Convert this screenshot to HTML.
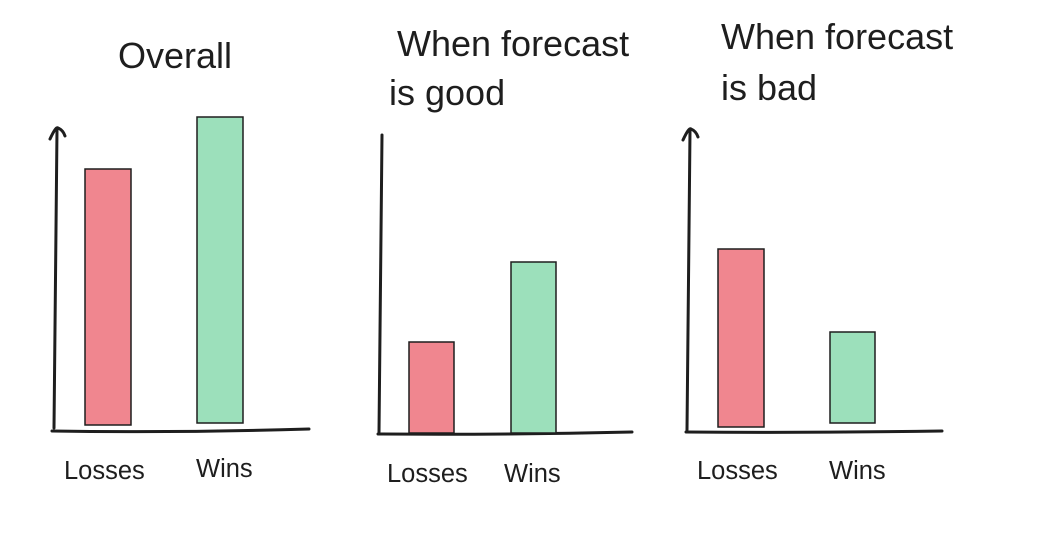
<!DOCTYPE html>
<html><head><meta charset="utf-8"><style>
html,body{margin:0;padding:0;background:#fff;}
svg{display:block;}
text{font-family:"Liberation Sans","DejaVu Sans",sans-serif;fill:#1e1e1e;}
</style></head><body>
<svg width="1055" height="539" viewBox="0 0 1055 539" xmlns="http://www.w3.org/2000/svg">
<rect width="1055" height="539" fill="#fff"/>
<g stroke="#1e1e1e" stroke-width="3" fill="none" stroke-linecap="round" stroke-linejoin="round">
  <path d="M54 428 Q55 280 57 129"/>
  <path d="M50 139 Q56 126 58 128 Q63 130 65 136"/>
  <path d="M52 431 Q180 433 309 429"/>
  <path d="M379 432 Q380 280 382 135"/>
  <path d="M378 434 Q500 435 632 432"/>
  <path d="M687 430 Q688 280 690 131"/>
  <path d="M683 140 Q689 127 691 129 Q696 131 698 137"/>
  <path d="M686 432 Q810 433 942 431"/>
</g>
<g stroke="#1e1e1e" stroke-width="1.5">
  <rect x="85" y="169" width="46" height="256" fill="#f0868f"/>
  <rect x="197" y="117" width="46" height="306" fill="#9ce0bb"/>
  <rect x="409" y="342" width="45" height="91" fill="#f0868f"/>
  <rect x="511" y="262" width="45" height="171" fill="#9ce0bb"/>
  <rect x="718" y="249" width="46" height="178" fill="#f0868f"/>
  <rect x="830" y="332" width="45" height="91" fill="#9ce0bb"/>
</g>
<g font-size="36">
  <text x="118" y="68">Overall</text>
  <text x="397" y="56">When forecast</text>
  <text x="389" y="105">is good</text>
  <text x="721" y="49">When forecast</text>
  <text x="721" y="100">is bad</text>
</g>
<g font-size="25.5">
  <text x="64" y="479">Losses</text>
  <text x="196" y="477">Wins</text>
  <text x="387" y="482">Losses</text>
  <text x="504" y="482">Wins</text>
  <text x="697" y="479">Losses</text>
  <text x="829" y="479">Wins</text>
</g>
</svg>
</body></html>
